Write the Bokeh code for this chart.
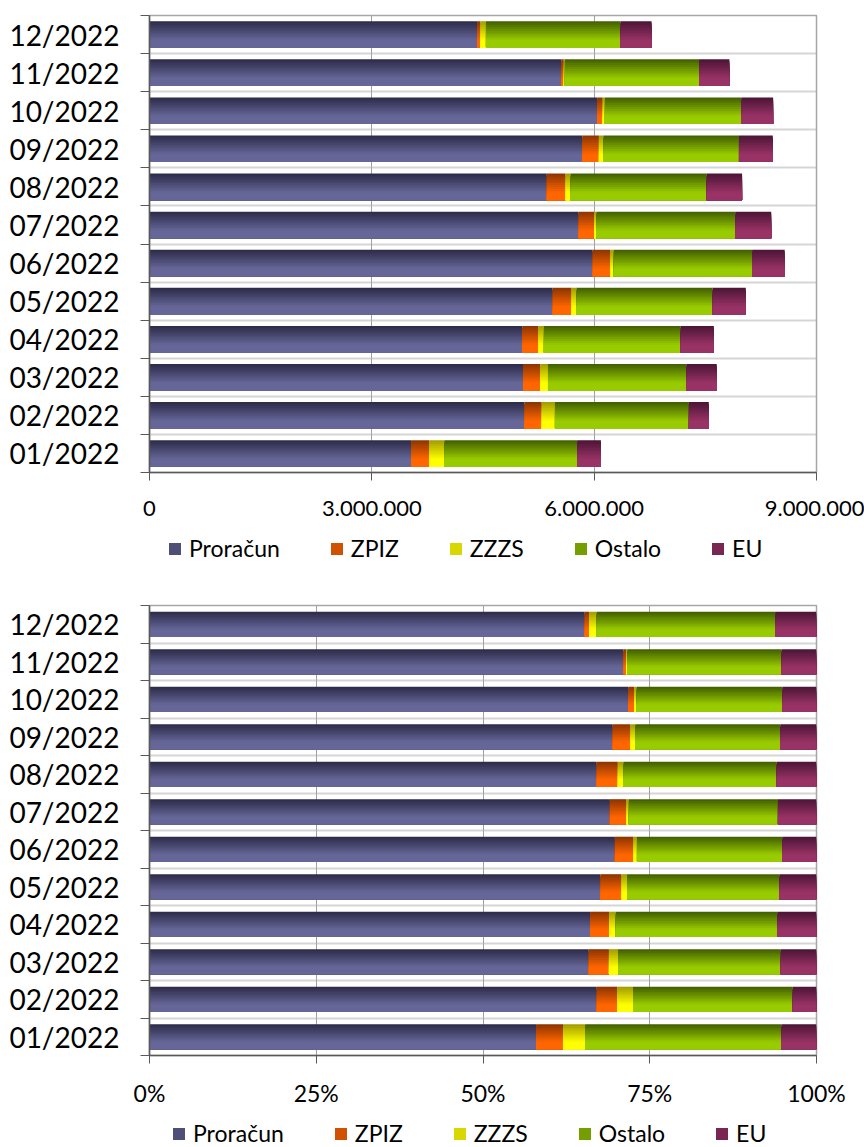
import numpy as np
from bokeh.plotting import figure
from bokeh.models import (FixedTicker, Legend, LegendItem, NumeralTickFormatter,
                          CustomJSTickFormatter, Range1d)
from bokeh.layouts import column
from bokeh.embed import file_html
from bokeh.resources import INLINE

# ---------------- data ----------------
months = ["01/2022", "02/2022", "03/2022", "04/2022", "05/2022", "06/2022",
          "07/2022", "08/2022", "09/2022", "10/2022", "11/2022", "12/2022"]
series_names = ["Proračun", "ZPIZ", "ZZZS", "Ostalo", "EU"]
proracun = [3530000, 5060000, 5040000, 5030000, 5440000, 5980000,
            5790000, 5360000, 5840000, 6040000, 5560000, 4420000]
zpiz = [246000, 232000, 232000, 217000, 254000, 239000,
        209000, 254000, 224000, 75000, 30000, 45000]
zzzs = [202000, 179000, 105000, 75000, 67000, 45000,
        30000, 67000, 60000, 30000, 15000, 75000]
ostalo = [1792000, 1807000, 1867000, 1845000, 1837000, 1867000,
          1875000, 1837000, 1830000, 1840000, 1810000, 1815000]
eu = [321000, 269000, 410000, 448000, 448000, 440000,
      485000, 478000, 456000, 430000, 410000, 420000]
abs_ticks = [0, 3000000, 6000000, 9000000]
pct_ticks = [0, 0.25, 0.5, 0.75, 1.0]

# ---------------- style ----------------
top_colors = ["#2b2a47", "#8a3300", "#a09a00", "#405c00", "#4a1535"]
base_colors = ["#666699", "#ff6600", "#ffff00", "#99cc00", "#993366"]
FONT = "Lato"
N_STRIPS = 14
FIG_W = 864
MB_LEFT = 149
MB_RIGHT = 48


def hex2rgb(h):
    h = h.lstrip("#")
    return np.array([int(h[i:i + 2], 16) for i in (0, 2, 4)], dtype=float)


def mix(c1, c2, t):
    a, b = hex2rgb(c1), hex2rgb(c2)
    c = a + (b - a) * t
    return "#%02x%02x%02x" % tuple(int(round(v)) for v in c)


def strip_t(k):
    return min(1.0, ((k + 0.5) / N_STRIPS) / 0.72)


def build(normalize, height, mb_top, mb_bottom, x_end, ticks,
          formatter, bar_h, tick_font_size, x_standoff):
    vals = np.array([proracun, zpiz, zzzs, ostalo, eu], dtype=float)
    if normalize:
        vals = vals / vals.sum(axis=0)
    right = np.cumsum(vals, axis=0)
    left = right - vals
    ys = np.arange(len(months), dtype=float)

    p = figure(width=FIG_W, height=height, output_backend="svg", toolbar_location=None,
               x_range=Range1d(0, x_end), y_range=Range1d(-0.5, len(months) - 0.5),
               min_border_left=MB_LEFT, min_border_right=MB_RIGHT,
               min_border_top=mb_top, min_border_bottom=mb_bottom)
    p.background_fill_color = "white"
    p.outline_line_color = "#a6a6a6"
    p.outline_line_width = 1.5

    for s in range(5):
        for k in range(N_STRIPS):
            top_off = bar_h / 2 - k * bar_h / N_STRIPS
            bot_off = -bar_h / 2
            col = mix(top_colors[s], base_colors[s], strip_t(k))
            p.hbar(y=ys + (top_off + bot_off) / 2, left=left[s], right=right[s],
                   height=top_off - bot_off, fill_color=col, line_color=None)

    xa = p.xaxis[0]
    xa.ticker = FixedTicker(ticks=ticks)
    xa.formatter = formatter
    xa.major_label_text_font = FONT
    xa.major_label_text_font_size = tick_font_size
    xa.major_label_text_color = "black"
    xa.major_tick_out = 8
    xa.major_tick_in = 0
    xa.minor_tick_out = 0
    xa.minor_tick_in = 0
    xa.axis_line_color = "#595959"
    xa.axis_line_width = 1.5
    xa.major_tick_line_color = "#595959"
    xa.major_label_standoff = x_standoff

    ya = p.yaxis[0]
    ya.ticker = FixedTicker(ticks=list(range(len(months))),
                            minor_ticks=[i - 0.5 for i in range(len(months) + 1)])
    ya.major_label_overrides = {i: m for i, m in enumerate(months)}
    ya.major_label_text_font = FONT
    ya.major_label_text_font_size = "28px"
    ya.major_label_text_color = "black"
    ya.major_tick_out = 0
    ya.major_tick_in = 0
    ya.minor_tick_out = 9
    ya.minor_tick_in = 0
    ya.minor_tick_line_color = "#595959"
    ya.axis_line_color = "#595959"
    ya.axis_line_width = 1.5
    ya.major_label_standoff = 21

    p.xgrid.ticker = FixedTicker(ticks=ticks)
    p.xgrid.grid_line_color = "#a0a0a0"
    p.xgrid.grid_line_width = 1
    p.ygrid.ticker = FixedTicker(ticks=[i + 0.5 for i in range(len(months) - 1)])
    p.ygrid.grid_line_color = "#aaaaaa"
    p.ygrid.grid_line_width = 2
    p.ygrid.grid_line_dash = "1 1"
    return p


def build_legend(height, loc):
    lp = figure(width=FIG_W, height=height, output_backend="svg", toolbar_location=None,
                x_axis_type=None, y_axis_type=None,
                min_border_left=MB_LEFT, min_border_right=MB_RIGHT,
                min_border_top=0, min_border_bottom=0,
                x_range=Range1d(0, 1), y_range=Range1d(0, 1))
    lp.outline_line_color = None
    items = []
    for s in range(5):
        col = mix(top_colors[s], base_colors[s], 0.6)
        # off-range placeholder mark: only its style is shown, in the legend
        r = lp.hbar(y=[-5], left=[0], right=[1], height=0.1,
                    fill_color=col, line_color=None)
        items.append(LegendItem(label=series_names[s], renderers=[r]))
    legend = Legend(items=items, orientation="horizontal", location=loc,
                    spacing=49, label_standoff=7, glyph_width=15, glyph_height=15,
                    label_text_font=FONT, label_text_font_size="23px",
                    label_text_color="black",
                    border_line_color=None, background_fill_alpha=0,
                    padding=0, margin=0)
    lp.add_layout(legend, "center")
    return lp


dot_fmt = CustomJSTickFormatter(code="""
    return Math.round(tick).toString().replace(/\\B(?=(\\d{3})+(?!\\d))/g, '.');
""")

# chart 1: 0 -> 530, legend 530 -> 588, chart 2: 588 -> 1109, legend 1109 -> 1147
p1 = build(False, 530, 15, 58, 9000000, abs_ticks, dot_fmt, 0.70, "22px", 20)
l1 = build_legend(58, (18, 26))
p2 = build(True, 521, 17, 52, 1.0, pct_ticks, NumeralTickFormatter(format="0%"), 0.67, "23px", 15)
l2 = build_legend(38, (22, 0))

layout = column(p1, l1, p2, l2, spacing=0)
open("out.html", "w").write(file_html(layout, INLINE))
